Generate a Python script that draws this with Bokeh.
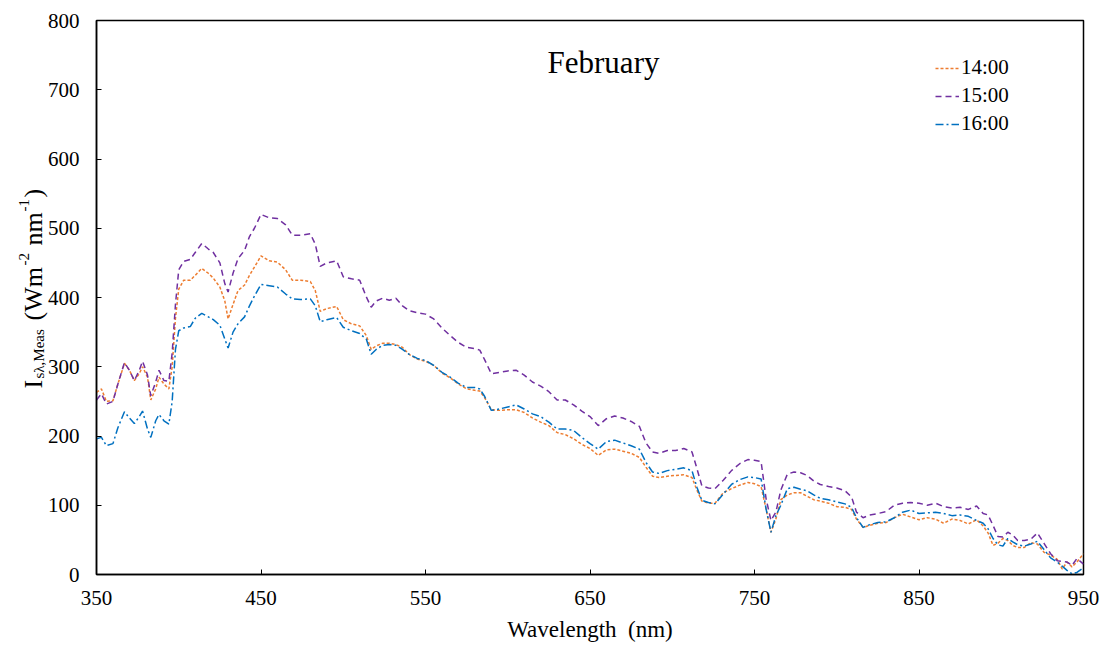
import math
from bokeh.plotting import figure
from bokeh.layouts import row
from bokeh.models import Range1d, FixedTicker, Label, Legend, LegendItem
from bokeh.embed import file_html
from bokeh.resources import INLINE

wavelength = [350, 353, 356, 360, 363, 367, 370, 373, 376, 378, 381, 383, 386, 388, 391, 394, 396, 398,
              400, 403, 407, 410, 414, 418, 421, 425, 428, 430, 433, 436, 440, 443, 446, 450, 455, 460,
              465, 469, 474, 480, 483, 486, 490, 496, 500, 505, 510, 514, 517, 520, 524, 528, 532, 536,
              540, 545, 550, 555, 560, 565, 570, 575, 580, 583, 586, 590, 595, 600, 605, 610, 615, 620,
              625, 630, 635, 640, 645, 650, 655, 660, 665, 670, 675, 680, 684, 688, 692, 697, 702, 707,
              712, 715, 718, 722, 726, 731, 736, 741, 746, 750, 754, 757, 760, 763, 766, 770, 774, 778,
              782, 786, 790, 795, 800, 805, 809, 812, 816, 820, 825, 830, 835, 840, 845, 850, 855, 860,
              865, 870, 875, 880, 885, 889, 892, 895, 898, 901, 904, 907, 910, 914, 918, 922, 926, 930,
              934, 937, 940, 943, 946, 950]

feb_1400 = [263, 268, 250, 251, 275, 305, 295, 280, 290, 300, 285, 252, 268, 285, 275, 268, 300, 370,
            412, 425, 425, 432, 442, 435, 428, 415, 395, 369, 390, 410, 418, 432, 444, 460, 453, 451,
            440, 425, 425, 423, 410, 380, 384, 387, 368, 362, 359, 345, 325, 330, 334, 334, 332, 328,
            318, 311, 308, 302, 291, 284, 275, 268, 266, 265, 255, 238, 237, 238, 238, 234, 226, 220,
            215, 205, 202, 196, 188, 182, 172, 180, 181, 178, 175, 169, 155, 142, 140, 142, 143, 144,
            140, 122, 106, 103, 103, 118, 124, 129, 133, 131, 127, 95, 61, 80, 108, 115, 118, 118,
            113, 108, 106, 103, 98, 97, 94, 80, 68, 71, 74, 75, 82, 87, 83, 79, 82, 80,
            74, 80, 78, 73, 79, 70, 60, 42, 45, 52, 49, 42, 39, 39, 46, 44, 32, 28,
            22, 8, 18, 11, 18, 30]

feb_1500 = [252, 261, 246, 250, 275, 306, 295, 280, 295, 308, 288, 258, 278, 295, 280, 279, 320, 390,
            440, 452, 455, 465, 478, 470, 465, 450, 420, 408, 435, 456, 468, 488, 500, 520, 515, 514,
            505, 490, 490, 492, 477, 445, 450, 453, 430, 427, 425, 401, 386, 395, 399, 396, 399, 388,
            381, 378, 376, 369, 356, 345, 335, 328, 326, 324, 310, 290, 292, 294, 295, 288, 278, 272,
            264, 252, 252, 245, 236, 228, 215, 225, 229, 226, 221, 214, 190, 177, 175, 179, 179, 182,
            177, 153, 128, 125, 124, 136, 150, 160, 166, 165, 163, 110, 78, 90, 122, 145, 148, 147,
            143, 135, 130, 127, 125, 121, 112, 90, 82, 86, 88, 91, 100, 103, 104, 103, 100, 103,
            98, 96, 97, 94, 99, 88, 86, 71, 55, 54, 61, 57, 49, 49, 51, 60, 45, 30,
            20, 19, 18, 13, 23, 15]

feb_1600 = [196, 198, 186, 189, 212, 235, 226, 218, 228, 236, 210, 198, 222, 231, 222, 217, 250, 325,
            352, 356, 358, 370, 377, 372, 368, 360, 340, 327, 350, 362, 372, 388, 402, 419, 417, 415,
            405, 398, 397, 398, 388, 365, 368, 371, 357, 352, 348, 340, 318, 325, 331, 332, 331, 325,
            318, 312, 309, 302, 292, 285, 276, 270, 270, 268, 257, 237, 239, 242, 245, 239, 232, 228,
            220, 210, 210, 208, 198, 189, 181, 192, 194, 190, 186, 181, 162, 148, 146, 150, 152, 154,
            150, 126, 107, 104, 102, 116, 130, 137, 141, 140, 138, 95, 61, 85, 100, 124, 126, 123,
            121, 115, 110, 108, 105, 102, 97, 82, 68, 72, 75, 76, 82, 90, 93, 88, 89, 90,
            88, 85, 86, 84, 78, 74, 66, 52, 43, 41, 52, 47, 43, 41, 44, 48, 36, 24,
            18, 12, 6, 1, 3, 10]

series_names = ["14:00", "15:00", "16:00"]
series_colors = ["#ED7D31", "#7030A0", "#0070C0"]
series_dashes = ["3 2", "6 4", "8 3 2 3"]
x_ticks = [350, 450, 550, 650, 750, 850, 950]
y_ticks = [0, 100, 200, 300, 400, 500, 600, 700, 800]

FONT = "Liberation Serif"
W, H = 1110, 647
LW = 44                     # visible width of the strip holding the y-axis title
LX = 70                     # drawn width of that strip (main chart overlaps the rest)
L, R, T, B = 96, 1083, 20, 574

# ---- strip with the composed y-axis title (its frame is aligned with the main frame: T..B) ----
lab = figure(width=LX, height=H, output_backend="svg", toolbar_location=None,
             x_range=Range1d(0, LX), y_range=Range1d(B, T),
             x_axis_location=None, y_axis_location=None,
             min_border_left=0, min_border_right=0, min_border_top=T, min_border_bottom=H - B,
             margin=(0, LW - LX, 0, 0))
lab.xgrid.visible = False
lab.ygrid.visible = False
lab.outline_line_color = None
lab.background_fill_color = "white"
lab.border_fill_color = "white"

# text, start position along the (rotated) line, baseline x, size
pieces = [
    ("I", 388, 33, "26px"),
    ("sλ,Meas", 378, 38, "15px"),
    ("(Wm", 320, 33, "26px"),
    ("-2", 265, 23, "15px"),
    ("nm", 245, 33, "26px"),
    ("-1", 211, 23, "15px"),
    (")", 197, 33, "26px"),
]
for txt, py, px, fs in pieces:
    lab.add_layout(Label(x=px, y=py, text=txt, text_font=FONT, text_font_size=fs,
                         angle=math.pi / 2, text_align="left", text_baseline="alphabetic",
                         text_color="black"))

# ---- main chart ----
p = figure(width=W - LW, height=H, output_backend="svg", toolbar_location=None,
           x_range=Range1d(350, 950), y_range=Range1d(0, 800),
           min_border_left=L - LW, min_border_right=W - R, min_border_top=T, min_border_bottom=H - B)
p.xgrid.visible = False
p.ygrid.visible = False
p.outline_line_color = "black"
p.outline_line_width = 1.5
p.background_fill_color = "white"
p.border_fill_color = None

for ax in (p.xaxis[0], p.yaxis[0]):
    ax.axis_line_color = "black"
    ax.axis_line_width = 1.5
    ax.major_tick_in = 5
    ax.major_tick_out = 0
    ax.major_tick_line_color = "black"
    ax.minor_tick_line_color = None
    ax.major_label_text_font = FONT
    ax.major_label_text_font_size = "21px"
    ax.major_label_text_color = "black"

p.xaxis.ticker = FixedTicker(ticks=x_ticks)
p.yaxis.ticker = FixedTicker(ticks=y_ticks)
p.xaxis.major_label_standoff = 16
p.yaxis.major_label_standoff = 17
p.xaxis.axis_label = "Wavelength\u00a0\u00a0(nm)"
p.xaxis.axis_label_text_font = FONT
p.xaxis.axis_label_text_font_style = "normal"
p.xaxis.axis_label_text_font_size = "23px"
p.xaxis.axis_label_text_color = "black"
p.xaxis.axis_label_standoff = 9

renderers = []
for vals, name, col, dash in zip([feb_1400, feb_1500, feb_1600], series_names, series_colors, series_dashes):
    r = p.line(wavelength, vals, line_color=col, line_width=1.5, line_dash=dash)
    renderers.append(r)

legend = Legend(items=[LegendItem(label=n, renderers=[r]) for n, r in zip(series_names, renderers)],
                location=(839, 438), orientation="vertical",
                label_text_font=FONT, label_text_font_size="21px", label_text_color="black",
                glyph_width=24, glyph_height=20, label_height=20, spacing=3, label_standoff=2,
                padding=0, margin=0, border_line_color=None, background_fill_alpha=0)
p.add_layout(legend)


def dx(px):
    return 350 + (px - L) / (R - L) * 600


def dy(py):
    return (B - py) / (B - T) * 800


p.add_layout(Label(x=dx(603), y=dy(62), text="February", text_font=FONT, text_font_size="31px",
                   text_align="center", text_baseline="alphabetic", text_color="black"))

open("out.html", "w").write(file_html(row(lab, p), INLINE))
